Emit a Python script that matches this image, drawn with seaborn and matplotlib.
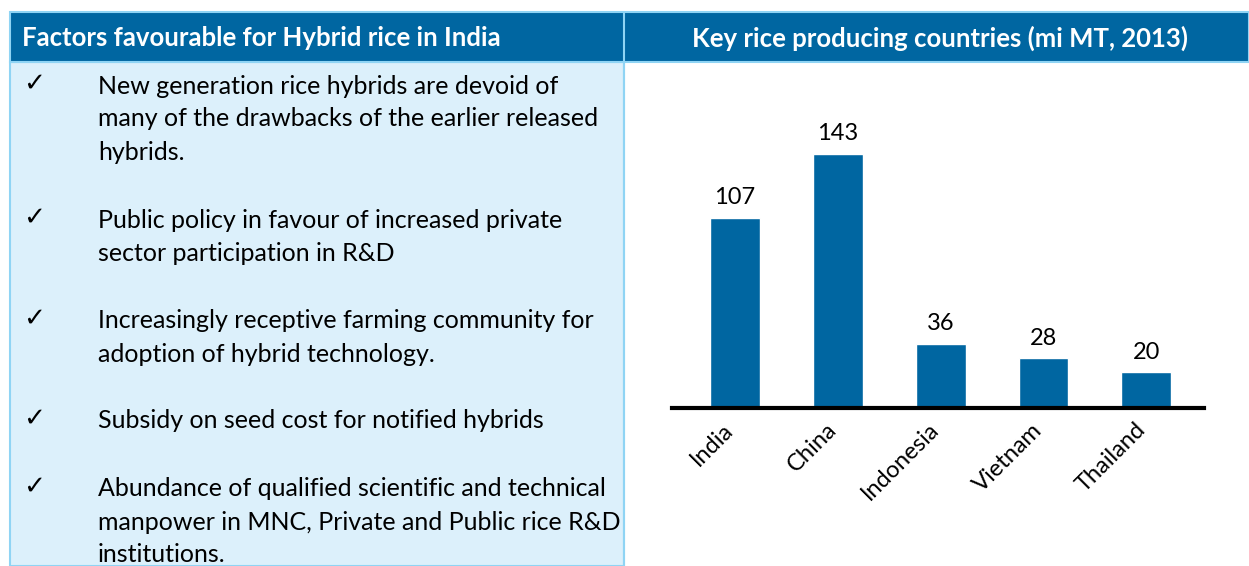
import matplotlib
matplotlib.use("Agg")
import matplotlib.pyplot as plt
from matplotlib.patches import Rectangle
from matplotlib.transforms import ScaledTranslation
import seaborn as sns
import pandas as pd

# data
countries = ["India", "China", "Indonesia", "Vietnam", "Thailand"]
production = [107, 143, 36, 28, 20]

left_title = "Factors favourable for Hybrid rice in India"
right_title = "Key rice producing countries (mi MT, 2013)"
factors = [
    ["New generation rice hybrids are devoid of",
     "many of the drawbacks of the earlier released",
     "hybrids."],
    ["Public policy in favour of increased private",
     "sector participation in R&D"],
    ["Increasingly receptive farming community for",
     "adoption of hybrid technology."],
    ["Subsidy on seed cost for notified hybrids"],
    ["Abundance of qualified scientific and technical",
     "manpower in MNC, Private and Public rice R&D",
     "institutions."],
]
factor_rows = [86, 220, 321, 421, 489]  # first-line y (px) of each item

W, H = 1249, 566
DARK = "#0066a1"
LIGHT_BG = "#dcf0fb"
EDGE = "#8fd4f4"
FONT = "Lato"

sns.set_theme(style="white")
plt.rcParams["font.family"] = [FONT, "DejaVu Sans"]

fig = plt.figure(figsize=(W / 100, H / 100), dpi=100)
fig.patch.set_facecolor("white")


def fx(x):
    return x / W


def fy(y):
    return 1 - y / H


# panels
fig.patches.append(Rectangle((fx(10), fy(566)), fx(624) - fx(10), fy(62) - fy(566),
                             transform=fig.transFigure, facecolor=LIGHT_BG,
                             edgecolor=EDGE, linewidth=1.5, zorder=0))
fig.patches.append(Rectangle((fx(10), fy(62)), fx(1249) - fx(10), fy(12) - fy(62),
                             transform=fig.transFigure, facecolor=DARK,
                             edgecolor=EDGE, linewidth=1.5, zorder=1))
fig.add_artist(plt.Line2D([fx(624), fx(624)], [fy(12), fy(566)],
                          transform=fig.transFigure, color=EDGE, lw=1.5, zorder=2))

# header texts
fig.text(fx(22), fy(38), left_title, color="white", fontsize=18.5, fontweight="bold",
         ha="left", va="center")
fig.text(fx(940), fy(38), right_title, color="white", fontsize=18.5, fontweight="bold",
         ha="center", va="center")

# bullet list
line_h = 33
for y0, lines in zip(factor_rows, factors):
    fig.text(fx(23), fy(y0 - 2), "\u2713", fontsize=19, ha="left", va="center",
             family=["DejaVu Sans"], color="black")
    for i, line in enumerate(lines):
        fig.text(fx(98), fy(y0 + i * line_h), line, fontsize=18, ha="left",
                 va="center", color="black")

# bar chart
ax = fig.add_axes([fx(672), fy(408), fx(1204) - fx(672), fy(100) - fy(408)])
df = pd.DataFrame({"country": countries, "production": production})
sns.barplot(data=df, x="country", y="production", color=DARK, saturation=1,
            width=0.485, ax=ax)
ax.set_xlim(-0.61, 4.56)
ax.set_ylim(0, 173.4)
ax.set_facecolor("none")
for s in ["top", "left", "right"]:
    ax.spines[s].set_visible(False)
ax.spines["bottom"].set_color("black")
ax.spines["bottom"].set_linewidth(3)
ax.set_yticks([])
ax.set_xlabel("")
ax.set_ylabel("")
ax.tick_params(axis="x", length=0, pad=8)
ax.set_xticks(range(len(countries)))
ax.set_xticklabels(countries, rotation=45, ha="right", rotation_mode="anchor",
                   fontsize=17, color="black")
shift = ScaledTranslation(-0.12, 0, fig.dpi_scale_trans)
for lab in ax.get_xticklabels():
    lab.set_transform(lab.get_transform() + shift)
for c in ax.containers:
    ax.bar_label(c, labels=[str(v) for v in production], padding=7, fontsize=17,
                 color="black")

fig.savefig("out.png", dpi=100)
